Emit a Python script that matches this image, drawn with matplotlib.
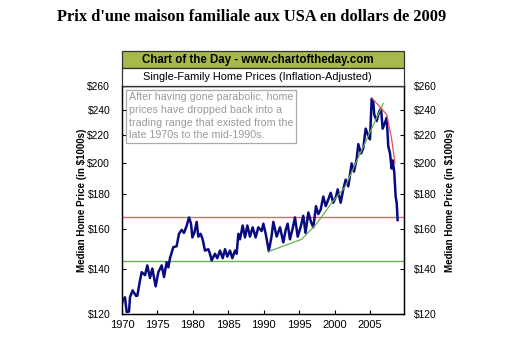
import matplotlib
matplotlib.use("Agg")
import matplotlib.pyplot as plt
from matplotlib.patches import Rectangle
from matplotlib.ticker import FixedLocator, NullLocator

# median single-family home price, inflation adjusted ($1000s)
years = [
    1970.0, 1970.09, 1970.42, 1970.66, 1970.99, 1971.13, 1971.5, 1971.98, 1972.16,
    1972.54, 1972.78, 1973.25, 1973.57, 1973.95, 1974.28, 1974.75, 1975.13, 1975.6,
    1975.93, 1976.3, 1976.54, 1976.77, 1977.24, 1977.71, 1978.04, 1978.42, 1978.75,
    1979.13, 1979.46, 1979.74, 1979.93, 1980.21, 1980.54, 1980.77, 1981.1, 1981.38,
    1981.71, 1982.18, 1982.42, 1982.65, 1983.12, 1983.45, 1983.83, 1984.21, 1984.54,
    1984.86, 1985.24, 1985.57, 1985.95, 1986.18, 1986.42, 1986.65, 1987.03, 1987.36,
    1987.69, 1988.06, 1988.44, 1988.86, 1989.24, 1989.71, 1989.95, 1990.28, 1990.72,
    1991.1, 1991.36, 1991.83, 1992.3, 1992.77, 1993.1, 1993.38, 1993.7, 1994.04,
    1994.41, 1994.8, 1995.2, 1995.58, 1995.9, 1996.3, 1996.67, 1997.0, 1997.38,
    1997.7, 1998.04, 1998.41, 1998.75, 1999.11, 1999.45, 1999.82, 2000.2, 2000.44,
    2000.86, 2001.23, 2001.57, 2001.94, 2002.41, 2002.74, 2003.12, 2003.35, 2003.73,
    2004.05, 2004.39, 2004.76, 2005.0, 2005.24, 2005.47, 2005.6, 2005.94, 2006.27,
    2006.55, 2006.79, 2007.12, 2007.36, 2007.58, 2007.82, 2008.06, 2008.2, 2008.43,
    2008.62, 2008.77, 2008.9,
]
prices = [
    124.0, 125.7, 127.0, 120.8, 121.0, 127.0, 130.0, 127.6, 127.6,
    134.5, 138.3, 136.9, 141.5, 135.6, 140.0, 131.8, 138.3, 141.5,
    136.0, 143.0, 140.6, 145.0, 150.5, 151.0, 157.5, 159.6, 158.0,
    161.9, 166.5, 163.0, 155.6, 158.0, 164.0, 156.0, 157.5, 154.6,
    148.8, 149.5, 147.2, 143.9, 147.2, 145.0, 148.8, 145.0, 149.5,
    145.8, 148.8, 145.0, 148.8, 147.2, 157.5, 154.6, 162.0, 155.6,
    162.0, 156.0, 161.0, 155.6, 161.0, 159.0, 163.0, 157.5, 148.5,
    156.0, 164.0, 156.0, 161.0, 153.0, 159.6, 163.0, 154.6, 159.6,
    166.5, 156.0, 161.0, 167.4, 158.0, 169.3, 164.0, 161.0, 173.0,
    168.4, 171.0, 178.7, 173.0, 176.9, 181.0, 175.0, 178.7, 183.1,
    175.0, 183.1, 189.3, 185.0, 200.0, 194.5, 203.0, 213.5, 206.8,
    210.5, 225.0, 219.6, 217.0, 249.0, 246.0, 236.0, 230.8, 238.0,
    240.9, 225.0, 229.6, 233.5, 212.0, 207.0, 196.5, 202.0, 194.0,
    178.7, 175.0, 165.0,
]

# trend lines drawn on the chart
up_years = [1990.75, 1995.36, 1997.47, 1999.6, 2001.47, 2002.88, 2004.76, 2006.87]
up_prices = [148.4, 154.6, 163.0, 175.0, 184.5, 199.0, 219.6, 245.0]
down_years = [2005.24, 2007.36, 2008.06, 2008.53]
down_prices = [249.8, 236.0, 217.0, 200.0]
range_top = 167.0
range_bottom = 143.5

yticks = [120, 140, 160, 180, 200, 220, 240, 260]
xticks = [1970, 1975, 1980, 1985, 1990, 1995, 2000, 2005]

W, H = 532, 363
fig = plt.figure(figsize=(W / 100, H / 100), dpi=100)
fig.patch.set_facecolor("white")

left, right, top, bottom = 122, 404, 86, 314
ax = fig.add_axes([left / W, 1 - bottom / H, (right - left) / W, (bottom - top) / H])

ax.plot(years, prices, color="#0a0a80", lw=1.8, zorder=3)
ax.plot(up_years, up_prices, color="#6ab04c", lw=0.9, zorder=4)
ax.plot(down_years, down_prices, color="#e8505a", lw=0.9, zorder=4)
ax.axhline(range_top, color="#e8606a", lw=1.0, zorder=2)
ax.axhline(range_bottom, color="#6ab04c", lw=1.0, zorder=2)

ax.set_yscale("log")
ax.set_ylim(120, 260)
ax.set_xlim(1970, 2009.8)
ax.yaxis.set_major_locator(FixedLocator(yticks))
ax.yaxis.set_minor_locator(NullLocator())
ax.set_yticklabels([f"${v}" for v in yticks])
ax.set_xticks(xticks)
ax.set_xticklabels([str(v) for v in xticks])

font = "Liberation Sans"
ax.tick_params(direction="in", length=3, width=0.8, labelsize=7.4)
ax.tick_params(axis="y", pad=8.5)
ax.tick_params(axis="x", labelsize=8.0, pad=4)
for lab in ax.get_xticklabels() + ax.get_yticklabels():
    lab.set_fontfamily(font)
ax.set_ylabel("Median Home Price (in $1000s)", fontsize=7, fontweight="bold",
              family=font, labelpad=0)

ax2 = ax.twinx()
ax2.set_yscale("log")
ax2.set_ylim(120, 260)
ax2.yaxis.set_major_locator(FixedLocator(yticks))
ax2.yaxis.set_minor_locator(NullLocator())
ax2.set_yticklabels([f"${v}" for v in yticks])
ax2.tick_params(direction="in", length=3, width=0.8, labelsize=7.4, pad=7)
for lab in ax2.get_yticklabels():
    lab.set_fontfamily(font)
ax2.set_ylabel("Median Home Price (in $1000s)", fontsize=7, fontweight="bold",
               family=font, rotation=90, labelpad=6)

for a in (ax, ax2):
    for s in a.spines.values():
        s.set_linewidth(0.9)

# header boxes above the plot
fig.add_artist(Rectangle((left / W, 1 - 68 / H), (right - left) / W, 17 / H,
                         transform=fig.transFigure, facecolor="#a6ba4c",
                         edgecolor="#333333", lw=0.9))
fig.add_artist(Rectangle((left / W, 1 - top / H), (right - left) / W, 18 / H,
                         transform=fig.transFigure, facecolor="white",
                         edgecolor="#333333", lw=0.9))
fig.text(257.5 / W, 1 - 59.5 / H, "Chart of the Day - www.chartoftheday.com",
         ha="center", va="center", fontsize=8.3, fontweight="bold", family=font)
fig.text(257.5 / W, 1 - 77 / H, "Single-Family Home Prices (Inflation-Adjusted)",
         ha="center", va="center", fontsize=7.95, family=font)

fig.text(251.5 / W, 1 - 17 / H, "Prix d'une maison familiale aux USA en dollars de 2009",
         ha="center", va="center", fontsize=11.8, fontweight="bold", family="Liberation Serif")

ax.text(0.025, 0.972,
        "After having gone parabolic, home\nprices have dropped back into a\n"
        "trading range that existed from the\nlate 1970s to the mid-1990s.",
        transform=ax.transAxes, ha="left", va="top", fontsize=7.7, family=font,
        color="#9a9a9a", linespacing=1.33, zorder=5,
        bbox=dict(boxstyle="square,pad=0.25", facecolor="white", edgecolor="#aaaaaa", lw=0.9))

fig.savefig("out.png", dpi=100)
